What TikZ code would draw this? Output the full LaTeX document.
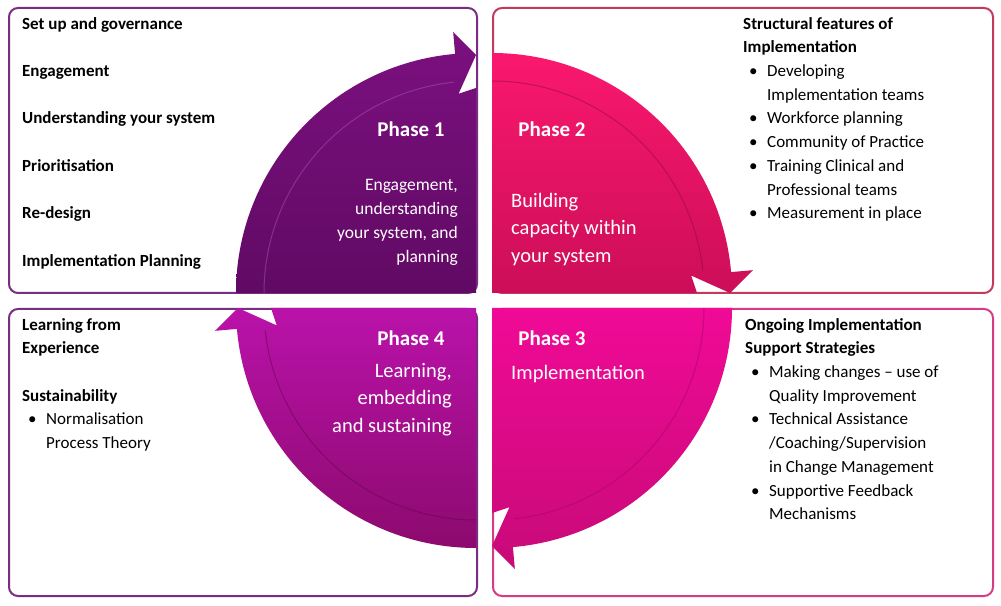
\documentclass[tikz,border=0pt]{standalone}
\usepackage{fontspec}
\setmainfont{Carlito}
\usetikzlibrary{calc}
\begin{document}
\begin{tikzpicture}[x=1pt,y=1pt,
  box/.style={rounded corners=9pt,line width=2pt,fill=white},
  lst/.style={anchor=north west,align=left,inner sep=0pt,font=\fontsize{17}{23.7}\selectfont},
  ph/.style={text=white,font=\bfseries\fontsize{21}{25}\selectfont},
  body/.style={text=white,inner sep=0pt,font=\fontsize{19.5}{24}\selectfont}]
\useasboundingbox (0,0) rectangle (1001,605);
\def\bl{\hspace*{6pt}\makebox[18pt][l]{\textbullet}}
\def\ind{\hspace*{24pt}}
% boxes
\draw[box,draw={rgb,255:red,123;green,45;blue,130}] (9,312) rectangle (477,597);
\draw[box,draw={rgb,255:red,195;green,58;blue,94}] (493,312) rectangle (993,597);
\draw[box,draw={rgb,255:red,123;green,45;blue,130}] (9,9) rectangle (477,296);
\draw[box,draw={rgb,255:red,214;green,60;blue,134}] (493,9) rectangle (993,296);
\definecolor{pa}{RGB}{124,16,128}\definecolor{pb}{RGB}{96,10,100}
\definecolor{qa}{RGB}{250,24,110}\definecolor{qb}{RGB}{204,14,88}
\definecolor{ra}{RGB}{240,10,150}\definecolor{rb}{RGB}{200,10,120}
\definecolor{sa}{RGB}{186,18,170}\definecolor{sb}{RGB}{140,10,110}
\newcommand{\quadr}[6]{%
 \shade[top color=#4,bottom color=#5] (#1) -- ($(#1)+(#2:240)$) arc[start angle=#2,end angle=#3+5,radius=240]
   -- ($(#1)+(#3+5:262)$) -- ($(#1)+(#3:238)$) -- ($(#1)+(#3+5:200)$) -- ($(#1)+(#3:205)$) -- cycle;
 \draw[#6,line width=1pt,opacity=0.5] ($(#1)+(#2:212)$) arc[start angle=#2,end angle=#3+6,radius=212];}
\coordinate (c1) at (476,312);
\coordinate (c2) at (492,312);
\coordinate (c3) at (492,297);
\coordinate (c4) at (476,297);
\quadr{c1}{180}{90}{pa}{pb}{pa!70!white}
\quadr{c2}{90}{0}{qa}{qb}{qb!70!black}
\quadr{c3}{0}{-90}{ra}{rb}{rb!80!black}
\quadr{c4}{270}{180}{sa}{sb}{sb!70!black}
% phase texts
\node[ph] (p1) at (411,476) {Phase 1};
\node[ph] (p2) at (552,476) {Phase 2};
\node[ph] (p3) at (552,267) {Phase 3};
\node[ph] (p4) at (411,267) {Phase 4};
\node[body,anchor=north east,align=right,font=\fontsize{17.5}{24}\selectfont] (t1) at (458,426)
  {Engagement,\\understanding\\your system, and\\planning};
\node[body,anchor=north west,align=left,font=\fontsize{20.5}{27.3}\selectfont] (t2) at (511,412)
  {Building\\capacity within\\your system};
\node[body,anchor=north west,align=left,font=\fontsize{20.5}{27.3}\selectfont] (t3) at (511,240)
  {Implementation};
\node[body,anchor=north east,align=right,font=\fontsize{20.5}{27.5}\selectfont] (t4) at (452,242)
  {Learning,\\embedding\\and sustaining};
% lists
\node[lst,font=\bfseries\fontsize{17}{47.4}\selectfont] (l1) at (22,588)
  {Set up and governance\\Engagement\\Understanding your system\\Prioritisation\\Re-design\\Implementation Planning};
\node[lst] (l2) at (743,588)
  {\textbf{Structural features of}\\\textbf{Implementation}\\\bl Developing\\\ind Implementation teams\\\bl Workforce planning\\\bl Community of Practice\\\bl Training Clinical and\\\ind Professional teams\\\bl Measurement in place};
\node[lst] (l3) at (745,287)
  {\textbf{Ongoing Implementation}\\\textbf{Support Strategies}\\\bl Making changes -- use of\\\ind Quality Improvement\\\bl Technical Assistance\\\ind /Coaching/Supervision\\\ind in Change Management\\\bl Supportive Feedback\\\ind Mechanisms};
\node[lst] (l4) at (22,287)
  {\textbf{Learning from}\\\textbf{Experience}\\[23.7pt]\textbf{Sustainability}\\\bl Normalisation\\\ind Process Theory};
\end{tikzpicture}
\end{document}
